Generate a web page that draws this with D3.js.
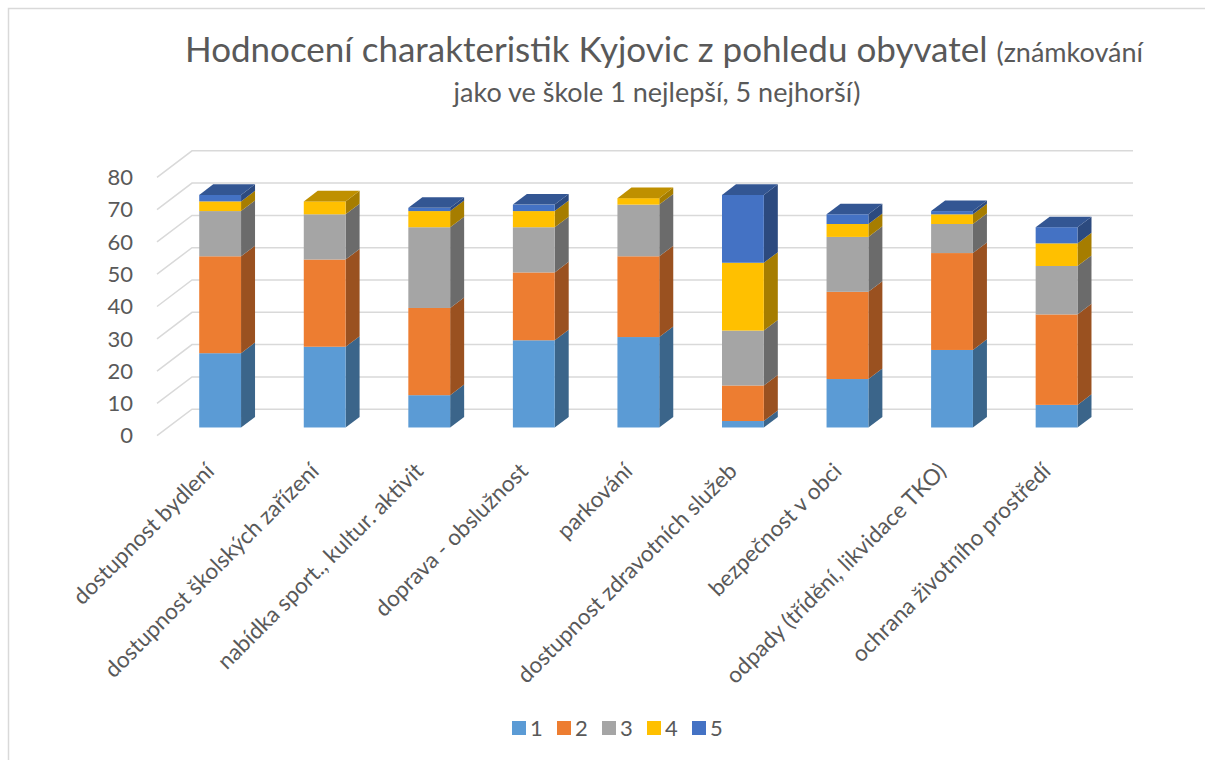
<!DOCTYPE html>
<html>
<head>
<meta charset="utf-8">
<script src="https://cdn.jsdelivr.net/npm/d3@7"></script>
<style>
  body { margin: 0; background: #fff; }
  text { font-family: Lato, "Open Sans", sans-serif; fill: #595959; }
</style>
</head>
<body>
<script>
const categories = ["dostupnost bydlení", "dostupnost školských zařízení", "nabídka sport., kultur. aktivit",
  "doprava - obslužnost", "parkování", "dostupnost zdravotních služeb", "bezpečnost v obci",
  "odpady (třídění, likvidace TKO)", "ochrana životního prostředí"];
const grades = ["1", "2", "3", "4", "5"];
const grade1 = [23, 25, 10, 27, 28, 2, 15, 24, 7];
const grade2 = [30, 27, 27, 21, 25, 11, 27, 30, 28];
const grade3 = [14, 14, 25, 14, 16, 17, 17, 9, 15];
const grade4 = [3, 4, 5, 5, 2, 21, 4, 3, 7];
const grade5 = [2, 0, 1, 2, 0, 21, 3, 1, 5];
const yTicks = [0, 10, 20, 30, 40, 50, 60, 70, 80];
const colors = ["#5B9BD5", "#ED7D31", "#A5A5A5", "#FFC000", "#4472C4"];

const w = 1205;
const h = 760;

// oblique 3d: depth shifts right and up
const depthX = 35;
const depthY = 26.5;
const barFront = 0.31;
const barDepth = 0.4;

const rows = categories.map((c, i) => ({
  cat: c, "1": grade1[i], "2": grade2[i], "3": grade3[i], "4": grade4[i], "5": grade5[i]
}));
const series = d3.stack().keys(grades)(rows);

const x = d3.scaleBand()
  .domain(categories)
  .range([157, 1098])
  .paddingInner(0.6)
  .paddingOuter(0.3);
const y = d3.scaleLinear()
  .domain([0, 80])
  .range([435.7, 177.3]);

function shade(c, k) {
  const r = d3.rgb(c);
  return d3.rgb(r.r * k, r.g * k, r.b * k).toString();
}

const svg = d3.select("body")
  .append("svg")
  .attr("width", w)
  .attr("height", h);

// outer border (left and top visible)
svg.append("path")
  .attr("d", "M8.5,760 V8.5 H1205")
  .attr("fill", "none")
  .attr("stroke", "#d9d9d9")
  .attr("stroke-width", 1.5);

// title
const title = svg.append("text")
  .attr("x", 664)
  .attr("y", 62)
  .attr("text-anchor", "middle");
title.append("tspan").attr("font-size", 35).text("Hodnocení charakteristik Kyjovic z pohledu obyvatel ");
title.append("tspan").attr("font-size", 27).text("(známkování");
svg.append("text")
  .attr("x", 657)
  .attr("y", 102)
  .attr("text-anchor", "middle")
  .attr("font-size", 27)
  .text("jako ve škole 1 nejlepší, 5 nejhorší)");

// back wall gridlines + side wall diagonals
const x0 = x.range()[0];
const x1 = x.range()[1];
svg.append("g")
  .selectAll("path")
  .data(yTicks)
  .join("path")
  .attr("d", d => `M${x0},${y(d)} L${x0 + depthX},${y(d) - depthY} L${x1 + depthX},${y(d) - depthY}`)
  .attr("fill", "none")
  .attr("stroke", "#d9d9d9")
  .attr("stroke-width", 1.5);

// y axis labels
svg.append("g")
  .selectAll("text")
  .data(yTicks)
  .join("text")
  .attr("x", 133)
  .attr("y", d => y(d))
  .attr("dy", "0.35em")
  .attr("text-anchor", "end")
  .attr("font-size", 22)
  .text(d => d);

// bars
const fx = barFront * depthX, fy = barFront * depthY;
const bx = barDepth * depthX, by = barDepth * depthY;
const bw = x.bandwidth();

series.forEach((s, k) => {
  const g = svg.append("g");
  const segs = s.map((d, i) => ({ y0: d[0], y1: d[1], cat: categories[i] })).filter(d => d.y1 > d.y0);
  g.selectAll("path.side")
    .data(segs)
    .join("path")
    .attr("class", "side")
    .attr("d", d => {
      const xr = x(d.cat) + fx + bw;
      const yb = y(d.y0) - fy, yt = y(d.y1) - fy;
      return `M${xr},${yb} L${xr + bx},${yb - by} L${xr + bx},${yt - by} L${xr},${yt} Z`;
    })
    .attr("fill", shade(colors[k], 0.65));
  g.selectAll("rect")
    .data(segs)
    .join("rect")
    .attr("x", d => x(d.cat) + fx)
    .attr("y", d => y(d.y1) - fy)
    .attr("width", bw)
    .attr("height", d => y(d.y0) - y(d.y1))
    .attr("fill", colors[k]);
});

// top faces of the topmost segment
const tops = categories.map((c, i) => {
  let k = grades.length - 1;
  while (k > 0 && series[k][i][1] === series[k][i][0]) k--;
  return { cat: c, v: series[k][i][1], k: k };
});
svg.append("g")
  .selectAll("path")
  .data(tops)
  .join("path")
  .attr("d", d => {
    const xl = x(d.cat) + fx, yt = y(d.v) - fy;
    return `M${xl},${yt} L${xl + bw},${yt} L${xl + bw + bx},${yt - by} L${xl + bx},${yt - by} Z`;
  })
  .attr("fill", d => shade(colors[d.k], 0.75));

// category labels
svg.append("g")
  .selectAll("text")
  .data(categories)
  .join("text")
  .attr("transform", d => `translate(${x(d) + fx + bw / 2 - 10},${467}) rotate(-45)`)
  .attr("dy", "0.35em")
  .attr("text-anchor", "end")
  .attr("font-size", 22.5)
  .text(d => d);

// legend
const legend = svg.append("g")
  .selectAll("g")
  .data(grades)
  .join("g")
  .attr("transform", (d, i) => `translate(${512 + i * 45},721)`);
legend.append("rect")
  .attr("width", 14)
  .attr("height", 14)
  .attr("fill", (d, i) => colors[i]);
legend.append("text")
  .attr("x", 18)
  .attr("y", 7)
  .attr("dy", "0.35em")
  .attr("font-size", 22)
  .text(d => d);
</script>
</body>
</html>
